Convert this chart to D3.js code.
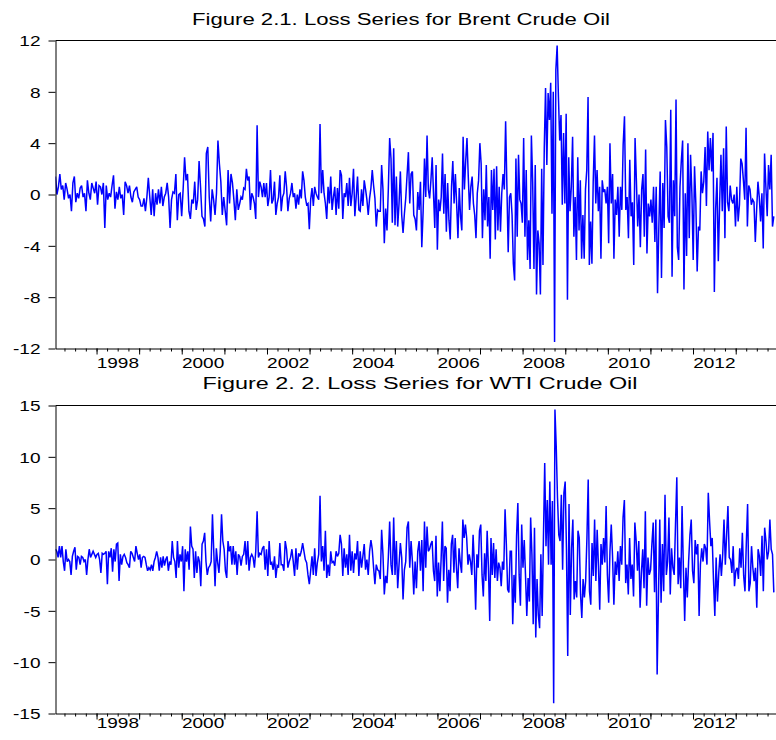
<!DOCTYPE html>
<html><head><meta charset="utf-8">
<script src="https://cdn.jsdelivr.net/npm/d3@7"></script>
<style>html,body{margin:0;padding:0;background:#fff;overflow:hidden;} svg{display:block;}</style>
</head><body>
<script>
// ---- data ----
const segmentStarts = ["1997-01-14","2001-05-12","2005-09-12","2010-01-19","2013-12-05"];
const axisRange = ["1997-01-14","2013-12-21"];

const brentA = [1.4,0.0,0.6,1.6,0.4,0.7,-0.4,0.9,0.4,-0.3,0.0,-1.3,0.9,1.4,-0.6,0.1,-0.3,0.5,0.7,-0.2,0.1,-1.3,1.1,0.1,-0.4,0.9,0.5,0.1,1.0,-0.8,0.7,0.6,0.0,0.9,-2.6,0.7,-0.4,0.1,-0.2,0.7,1.5,-1.1,0.2,-0.4,0.6,-0.3,0.0,-1.6,1.0,0.7,0.1,0.7,-0.2,-0.6,0.2,0.4,0.6,-0.2,-0.4,-0.9,-0.9,-0.3,-1.3,-0.2,1.3,-0.2,-1.6,0.4,-1.7,0.1,-0.8,0.4,-0.7,0.6,-0.9,-0.2,0.1,0.9,-0.2,-2.6,-0.4,0.2,0.1,1.6,-2.0,0.0,0.1,-1.7,0.4,2.9,1.1,1.6,-1.3,-1.9,-0.4,-0.7,1.0,-1.2,-0.4,2.6,0.6,-1.7,-1.9,-2.5,3.2,3.7,-0.2,-2.1,0.4,-0.4,-1.6,0.1,4.2,2.4,1.0,-1.6,-0.2,-1.3,-2.4,1.9,-0.7,1.6,0.9,-0.4,-2.0,0.4,-1.2];
const brentB = [-0.7,-0.2,-0.4,0.5,0.4,2.0,1.1,1.4,-1.2,0.1,-0.2,-0.7,-1.9,5.4,-0.2,1.0,0.6,-0.2,0.9,-0.2,0.9,-0.9,-0.2,1.9,-0.7,-0.4,1.0,-1.6,-0.7,-0.2,1.5,-1.3,-0.2,0.1,1.8,0.6,-1.3,-0.3,0.1,0.9,-0.2,0.1,-1.1,0.0,-0.8,0.4,-0.3,1.8,1.1,-0.2,-0.8,-0.7,-2.7,-0.4,0.5,-0.9,0.6,0.1,-0.2,-0.4,5.5,0.1,1.9,0.1,-0.7,-1.9,0.6,-0.7,1.4,-1.2,-0.2,0.6,-1.6,0.5,-1.1,1.9,1.5,-1.9,0.1,-0.2,0.9,-0.9,1.3,-0.9,0.1,2.0,-1.7,-0.2,1.4,-1.2,-1.3,0.4,-0.9,1.1,0.4,-0.4,-1.6,-0.3,0.5,1.9,0.7,-0.3,-2.5,-1.2,-1.3,-1.3,2.3,0.4,-3.8,-1.1,-2.8,0.4,4.4,2.8,-2.2,3.6,-2.4,1.4,-2.5,-0.7,1.8,-1.6,-3.0,-1.5,-0.3,1.5,3.3,-0.7,1.6,1.8,-1.6,-1.9,-2.8,0.2,-1.2,1.0,-4.1,-1.3];
const brentC = [2.8,-0.2,4.6,0.4,-0.3,1.1,2.9,0.1,-2.6,2.3,-4.3,-0.4,-1.3,-0.2,3.2,-1.5,1.6,-2.9,0.9,-2.0,-3.5,0.6,2.6,-0.7,1.6,-0.8,-3.4,0.5,-1.7,-2.8,4.5,0.4,2.6,4.4,1.4,-1.2,0.6,1.4,-0.7,-1.6,-3.4,0.1,1.1,4.0,2.4,-3.4,0.4,-2.0,2.3,-2.5,-0.2,-5.0,1.9,-1.2,2.0,-3.5,2.2,-2.8,0.6,-2.9,0.1,1.6,0.4,5.7,0.6,-4.5,-0.2,0.1,-1.6,-5.4,-6.7,2.8,-3.3,3.1,-0.4,-0.7,-2.2,4.4,-3.3,1.9,-5.1,-2.0,-5.8,4.6,1.0,-5.8,2.3,-7.8,-2.8,-3.8,-7.8,2.0,-5.5,3.6,8.3,2.3,7.9,5.8,8.7,-1.5,8.0,-11.5,9.7,11.6,7.6,4.2,6.2,-0.8,4.8,-0.7,6.3,-8.2,2.9,-1.3,0.6,4.5,-3.3,-0.2,-5.1,2.9,-2.8,1.1,-5.0,-1.6,-5.0,0.4,1.9,7.6,-5.5,-2.1,-5.4,1.0,4.6,-0.7,1.9,-1.3,0.6,-5.0,1.1,0.2,0.4,-0.7,0.6,-3.8];
const brentD = [4.0,-0.7,1.6,-5.0,-0.4,-1.6,0.6,-3.3,0.6,-1.2,3.9,6.1,-1.2,-0.2,-3.4,2.7,-1.7,-0.6,-5.5,4.4,1.1,-2.5,0.0,-4.1,0.4,1.6,-3.3,3.5,-4.6,-0.7,-1.7,-0.4,-2.2,0.6,-3.7,0.6,-7.7,-2.5,1.8,-6.5,0.9,-2.6,5.8,3.7,-1.7,-2.2,6.6,-6.4,1.1,-1.7,7.4,-4.1,-5.1,0.6,2.6,4.2,-7.4,0.1,-4.8,4.0,-3.4,3.1,0.1,-5.1,2.2,-0.7,-6.0,-2.5,-2.8,1.8,0.1,1.0,3.7,-0.9,4.9,1.9,4.4,1.8,4.8,-7.6,-1.1,1.3,-5.2,-0.7,3.1,-1.3,3.6,-3.4,5.3,-0.6,-1.3,0.7,-0.4,-0.7,0.0,-2.5,0.6,-2.1,-0.8,2.8,2.4,1.1,-0.4,5.2,-2.5,0.7,0.4,-0.8,-0.4,-0.6,-3.7,-1.2,1.0,-0.2,-2.1,0.1,-4.2,3.2,0.6,-1.7,2.3,0.4,3.1,-2.5,-1.7];

const wtiA = [1.0,0.8,0.2,1.3,0.2,1.3,-0.2,-1.1,1.0,-0.2,0.0,-0.2,-1.5,0.3,0.8,1.2,-1.0,0.3,0.2,-0.5,0.3,0.2,-0.2,0.0,-1.5,0.0,1.0,0.2,0.5,0.8,0.5,0.2,0.5,0.6,0.0,-1.3,0.6,0.5,0.6,0.8,-2.4,0.8,0.2,1.1,-1.2,1.0,-0.2,1.5,1.6,-2.1,0.5,-0.5,0.3,0.5,0.2,-0.3,-0.5,-0.8,0.8,0.6,0.2,-0.2,1.3,0.6,0.0,0.5,-0.8,0.2,0.3,0.2,-0.5,-1.1,-0.8,-1.0,-0.5,-1.1,-0.2,0.2,0.8,0.2,-1.1,0.2,-0.8,0.3,-0.6,0.0,0.3,-1.1,-0.2,-0.5,1.8,0.2,-0.2,-1.8,1.8,-0.8,0.5,-0.2,1.3,-3.1,1.0,-0.2,0.8,-1.0,3.2,1.3,1.0,-1.8,0.8,-1.3,0.3,-0.2,-2.6,1.5,1.8,2.6,-0.2,-1.5,-0.8,-0.6,-0.2,4.4,0.8,-2.6,1.1,-0.3,-1.3,0.8,4.4,1.8,1.0,-1.1,-1.8,1.8,0.8,1.3,-0.5,1.3,-0.5,0.8,-1.5,0.5];
const wtiB = [0.3,-0.6,0.3,0.5,1.8,-0.5,1.8,-1.1,0.2,0.5,0.2,-0.8,0.8,4.7,0.2,0.6,0.5,1.1,1.3,-1.0,1.0,-1.6,1.8,-0.5,-0.3,-1.0,0.3,-1.8,-0.6,-0.8,1.6,-0.5,-0.5,-1.1,1.8,1.0,-0.8,-0.2,0.2,1.0,-0.2,-1.6,1.1,-1.0,0.6,0.3,0.8,1.6,0.8,0.0,-0.3,-1.5,-2.4,-1.1,0.3,-1.5,1.1,-1.6,-0.3,0.5,6.2,-0.2,1.3,-1.1,2.8,-1.8,-0.5,-1.6,0.8,-0.3,-0.2,-0.6,0.8,0.3,0.6,2.4,1.5,-1.6,1.1,-0.8,0.5,-1.5,2.4,-1.1,0.8,-1.3,0.6,0.0,1.8,-1.6,0.8,-0.8,0.3,1.5,-1.0,0.0,-1.5,0.8,1.9,1.0,-0.8,-2.4,-0.5,-1.0,-1.1,-1.9,2.9,0.5,-3.4,-1.6,-2.3,0.2,3.7,-0.5,-1.5,4.1,-1.5,1.8,-2.8,-0.5,1.6,0.2,-3.9,-1.0,-0.2,3.1,3.7,-0.8,1.8,-0.2,-3.4,-0.2,-2.8,0.8,1.8,-1.1,1.9,-3.1];
const wtiC = [3.7,-0.8,3.2,0.8,1.0,1.5,1.8,-1.1,-2.1,2.3,-3.6,-0.3,-3.1,0.0,3.7,-2.1,1.3,1.1,-4.2,-1.0,-3.1,1.5,2.4,-1.3,2.1,-0.8,-2.8,1.1,-0.3,-1.3,3.9,2.1,3.4,2.1,-0.5,0.5,-0.2,-1.5,2.4,-0.5,-4.9,0.5,-0.8,2.8,3.4,-1.5,-3.6,0.6,-2.1,2.8,-0.8,-6.0,2.1,-1.5,1.6,-1.8,1.0,-2.1,-0.3,-0.8,-2.6,-0.2,-1.0,4.9,1.5,-2.9,-3.2,0.8,0.8,-6.3,-1.5,-4.2,2.3,5.5,-1.5,-4.5,3.4,-0.8,1.9,-1.6,-5.5,-1.8,-4.1,4.1,0.5,-6.3,3.1,-7.6,-1.9,-5.4,-6.7,0.5,-5.5,2.1,9.4,1.3,5.8,-0.5,7.6,-0.5,5.7,-14.0,14.6,11.0,6.0,2.4,1.8,6.3,-1.0,6.5,7.6,1.0,-9.4,5.4,-5.4,1.1,3.9,-3.9,-2.1,-3.7,2.8,2.1,-3.4,-5.7,-1.9,-3.7,-2.1,2.1,7.8,-3.1,-4.4,1.6,-1.6,3.9,-2.1,2.9,-0.6,-4.9,1.5,-0.5,2.1,-0.3,5.2,-1.5,-4.2];
const wtiD = [0.8,3.4,0.2,-4.4,-0.2,-1.5,0.8,-2.1,1.3,-0.5,4.1,5.8,-2.3,-0.5,-3.4,2.1,-1.9,-0.5,-3.6,3.6,1.8,-1.1,1.8,-4.7,-1.3,1.0,-2.8,4.7,-4.5,0.2,-1.5,-1.0,1.5,3.6,-3.2,3.9,-11.2,-3.7,3.9,-4.2,1.5,-3.1,6.3,-1.5,-0.2,4.1,-3.4,1.1,-0.8,-1.5,3.4,8.0,-2.4,0.2,-2.8,5.2,-0.8,-6.0,-0.8,-3.7,-0.2,2.4,3.9,-1.1,-2.3,1.9,0.5,1.5,-5.5,-0.5,1.1,-0.2,1.5,1.1,-0.5,6.5,3.7,1.3,2.1,-2.1,-5.5,0.2,-4.1,-1.3,0.5,-1.6,0.5,3.9,-0.5,2.4,5.2,0.2,0.0,-1.3,1.3,-2.6,-1.1,-0.8,-1.9,1.1,-0.8,2.6,-1.6,-3.1,1.5,5.4,-3.1,-2.3,1.3,-0.8,-2.1,-0.8,-4.7,1.0,0.3,-1.6,2.3,-3.1,3.1,1.8,0.0,0.8,3.9,1.0,0.5,-3.2];

const brentTicks = [12, 8, 4, 0, -4, -8, -12];
const wtiTicks = [15, 10, 5, 0, -5, -10, -15];
const labelYears = [1998, 2000, 2002, 2004, 2006, 2008, 2010, 2012];
const titles = ["Figure 2.1. Loss Series for Brent Crude Oil", "Figure 2. 2. Loss Series for WTI Crude Oil"];

// ---- build ----
const parse = d3.utcParse("%Y-%m-%d");
function buildSeries(segments) {
  const starts = segmentStarts.map(parse);
  const out = [];
  segments.forEach((seg, i) => {
    const t0 = +starts[i], t1 = +starts[i + 1];
    seg.forEach((v, k) => out.push({ date: new Date(t0 + (t1 - t0) * k / seg.length), v }));
  });
  return out;
}

const W = 776, H = 740;
const svg = d3.select("body").append("svg").attr("width", W).attr("height", H);
const FONT = "'Liberation Sans', Arial, Helvetica, sans-serif";
const x = d3.scaleUtc().domain(axisRange.map(parse)).range([55.5, 777]);

const panels = [
  { series: buildSeries([brentA, brentB, brentC, brentD]), ticks: brentTicks, dom: [-12, 12],
    top: 40.5, bottom: 348.5, title: titles[0], titleX: 401, titleY: 24.5, titleW: 418, labelY: 367.5 },
  { series: buildSeries([wtiA, wtiB, wtiC, wtiD]), ticks: wtiTicks, dom: [-15, 15],
    top: 405.5, bottom: 713.5, title: titles[1], titleX: 420, titleY: 388.5, titleW: 435, labelY: 727.5 }
];

const XS = 1.27; // horizontal stretch of the original picture's text

panels.forEach((p, pi) => {
  const y = d3.scaleLinear().domain(p.dom).range([p.bottom, p.top]);
  const g = svg.append("g");

  const cid = "clip" + pi;
  svg.append("clipPath").attr("id", cid).append("rect")
    .attr("x", 55.5).attr("y", p.top).attr("width", 777 - 55.5).attr("height", p.bottom - p.top);

  g.append("path").datum(p.series)
    .attr("clip-path", `url(#${cid})`)
    .attr("fill", "none").attr("stroke", "#0000ff").attr("stroke-width", 1.5)
    .attr("stroke-linejoin", "miter").attr("stroke-miterlimit", 3)
    .attr("d", d3.line().x(d => x(d.date)).y(d => y(d.v)));

  g.append("line").attr("x1", 55.5).attr("x2", 777).attr("y1", p.top).attr("y2", p.top)
    .attr("stroke", "#000").attr("stroke-width", 1);

  const ya = g.append("g").attr("transform", "translate(55.5,0)")
    .call(d3.axisLeft(y).tickValues(p.ticks).tickSize(7).tickSizeOuter(0).tickFormat(d => String(d)));
  ya.select(".domain").attr("stroke", "#000");
  ya.selectAll(".tick line").attr("stroke", "#000");
  ya.selectAll(".tick text")
    .attr("x", null).attr("dy", null)
    .attr("dominant-baseline", "central")
    .attr("transform", `translate(-15,0) scale(${XS},1)`)
    .attr("text-anchor", "end")
    .style("font-family", FONT).style("font-size", "15px").attr("fill", "#000");

  const [d0, d1] = x.domain();
  const xa1 = g.append("g").attr("transform", `translate(0,${p.bottom})`)
    .call(d3.axisBottom(x).tickValues(d3.utcMonth.every(3).range(d0, d1)).tickSize(3).tickSizeOuter(0).tickFormat(""));
  xa1.select(".domain").attr("stroke", "#000");
  xa1.selectAll(".tick line").attr("stroke", "#000");
  const xa2 = g.append("g").attr("transform", `translate(0,${p.bottom})`)
    .call(d3.axisBottom(x).tickValues(d3.utcYear.range(d0, d1)).tickSize(6).tickSizeOuter(0).tickFormat(""));
  xa2.select(".domain").remove();
  xa2.selectAll(".tick line").attr("stroke", "#000");

  g.selectAll("text.yl").data(labelYears).join("text").attr("class", "yl")
    .attr("transform", d => `translate(${x(new Date(Date.UTC(d, 6, 2)))},${p.labelY}) scale(${XS},1)`)
    .attr("text-anchor", "middle")
    .style("font-family", FONT).style("font-size", "15px").attr("fill", "#000")
    .text(d => String(d));

  g.append("text")
    .attr("x", p.titleX - p.titleW / 2).attr("y", p.titleY)
    .attr("textLength", p.titleW).attr("lengthAdjust", "spacingAndGlyphs")
    .style("font-family", FONT).style("font-size", "16px").attr("fill", "#000")
    .text(p.title);
});
</script>
</body></html>
